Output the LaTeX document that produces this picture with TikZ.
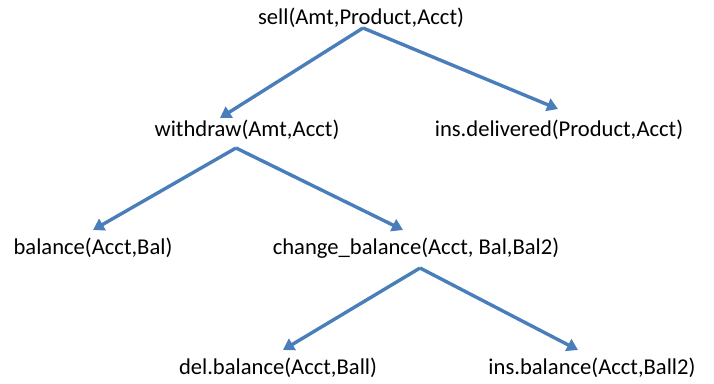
\documentclass[tikz,border=0pt]{standalone}
\usepackage{fontspec}
\setmainfont{Carlito}
\usetikzlibrary{arrows.meta}
\definecolor{obl}{HTML}{4A7EBB}
\tikzset{
  lbl/.style={inner sep=0pt, anchor=center, font=\fontsize{22.6}{25}\selectfont},
  arr/.style={draw=obl, line width=3.4pt, -{Triangle[length=11pt,width=13pt]}}
}
\begin{document}
\begin{tikzpicture}[x=1pt,y=1pt]
\useasboundingbox (0,0) rectangle (714,383);
\node[lbl] (sell) at (361,365) {sell(Amt,Product,Acct)};
\node[lbl] (wd) at (247,253) {withdraw(Amt,Acct)};
\node[lbl] (insdel) at (559,253) {ins.delivered(Product,Acct)};
\node[lbl] (bal) at (93,135) {balance(Acct,Bal)};
\node[lbl] (chb) at (416,135) {change\_balance(Acct, Bal,Bal2)};
\node[lbl] (delb) at (278,15) {del.balance(Acct,Ball)};
\node[lbl] (insb) at (592,15) {ins.balance(Acct,Ball2)};
% start points
\coordinate (s0) at (363,355);
\coordinate (w0) at (236,235);
\coordinate (c0) at (420,115);
% arrow tips
\coordinate (t1) at (220,265);
\coordinate (t2) at (558,274);
\coordinate (t3) at (93,153);
\coordinate (t4) at (403,153);
\coordinate (t5) at (283,33);
\coordinate (t6) at (578,33);
\draw[arr] (s0) -- (t1);
\draw[arr] (s0) -- (t2);
\draw[arr] (w0) -- (t3);
\draw[arr] (w0) -- (t4);
\draw[arr] (c0) -- (t5);
\draw[arr] (c0) -- (t6);
\end{tikzpicture}
\end{document}
